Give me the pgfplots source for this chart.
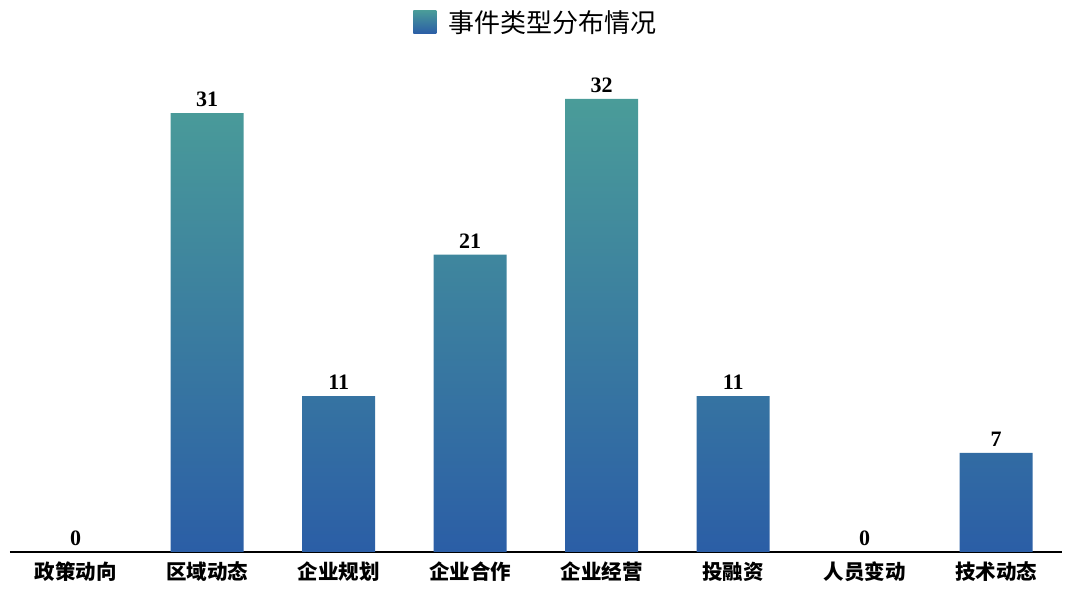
\documentclass[border=0pt]{standalone}
\usepackage{fontspec}
\setmainfont{Liberation Serif}
\newfontfamily\cjk{Noto Sans CJK SC}
\usepackage{pgfplots}
\pgfplotsset{compat=1.18}
\definecolor{bartop}{HTML}{4A9C99}
\definecolor{barbot}{HTML}{2B5EA6}
\begin{document}
\begin{tikzpicture}[x=1pt,y=1pt]
\useasboundingbox (-10,-41) rectangle (1070,552);
\begin{axis}[
  at={(0,0)}, anchor=south west,
  scale only axis,
  width=1052pt, height=495.6pt,
  xmin=-0.5, xmax=7.5,
  ymin=0, ymax=35,
  axis y line=none,
  axis x line*=bottom,
  x axis line style={-, line width=1.2pt, black},
  xtick={0,1,2,3,4,5,6,7},
  xticklabels={政策动向,区域动态,企业规划,企业合作,企业经营,投融资,人员变动,技术动态},
  xticklabel style={font=\cjk\fontsize{20.5}{23}\selectfont\bfseries, yshift=-6pt},
  major tick length=0pt,
  ybar, bar width=73pt, bar shift=0pt,
  nodes near coords={\pgfmathprintnumber[assume math mode=true]{\pgfplotspointmeta}},
  every node near coord/.append style={font=\fontsize{22}{25}\selectfont\bfseries, yshift=3pt},
  legend style={at={(0.5,1.0)}, anchor=center, yshift=34.5pt, draw=none, fill=none,
    font=\cjk\fontsize{26}{29}\selectfont},
  legend image code/.code={\shade[top color=bartop, bottom color=barbot] (0pt,-11.5pt) rectangle (23pt,11.5pt);
    \path (23pt,0pt) -- (33pt,0pt);},
  legend cell align=left,
]
\addplot[draw=none, top color=bartop, bottom color=barbot] coordinates {
  (1,31) (2,11) (3,21) (4,32) (5,11) (7,7)
};
\addlegendentry{事件类型分布情况}
\addplot[draw=none, fill=none, forget plot] coordinates {
  (0,0) (6,0)
};
\end{axis}
\end{tikzpicture}
\end{document}
